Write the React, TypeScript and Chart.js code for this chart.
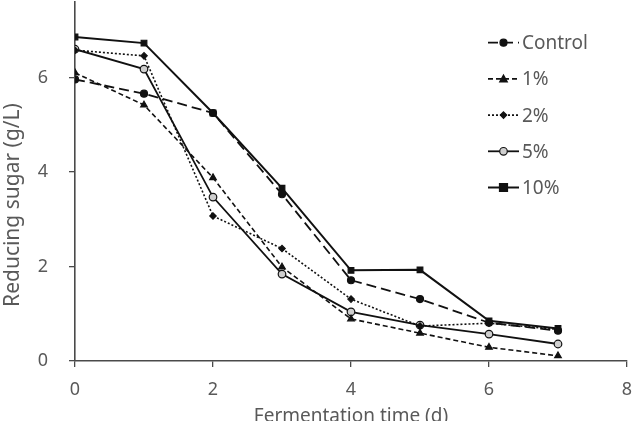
import React, { useEffect, useRef } from "react";
import { Chart, registerables } from "chart.js";

Chart.register(...registerables);

const days = [0, 1, 2, 3, 4, 5, 6, 7];
const seriesLabels = ["Control", "1%", "2%", "5%", "10%"];
const controlValues = [5.96, 5.66, 5.25, 3.53, 1.71, 1.31, 0.81, 0.64];
const pct1Values = [6.1, 5.42, 3.88, 1.99, 0.89, 0.59, 0.29, 0.11];
const pct2Values = [6.58, 6.46, 3.07, 2.38, 1.31, 0.74, 0.8, 0.67];
const pct5Values = [6.6, 6.18, 3.47, 1.84, 1.04, 0.76, 0.57, 0.36];
const pct10Values = [6.86, 6.73, 5.25, 3.66, 1.92, 1.93, 0.85, 0.69];
const xTickValues = [0, 2, 4, 6, 8];
const yTickValues = [0, 2, 4, 6];
const xTitle = "Fermentation time (d)";
const yTitle = "Reducing sugar (g/L)";

const FONT = "'Noto Sans', sans-serif";
const TEXT = "#595959";
const AXIS = "#4a4a4a";

const styles = [
  { dash: [10, 5], width: 1.8, point: "circle", radius: 3.5, fill: "#111" },
  { dash: [5, 3], width: 1.6, point: "triangle", radius: 3.8, fill: "#111" },
  { dash: [2, 2], width: 1.6, point: "rectRot", radius: 3.2, fill: "#111" },
  { dash: [], width: 1.8, point: "circle", radius: 3.8, fill: "#cfcfcf" },
  { dash: [], width: 2.0, point: "rect", radius: 4, fill: "#111" },
];

function drawMarker(ctx: CanvasRenderingContext2D, kind: string, x: number, y: number, r: number, fill: string) {
  ctx.save();
  ctx.setLineDash([]);
  ctx.fillStyle = fill;
  ctx.strokeStyle = "#111";
  ctx.lineWidth = 1.2;
  ctx.beginPath();
  if (kind === "circle") {
    ctx.arc(x, y, r, 0, Math.PI * 2);
  } else if (kind === "triangle") {
    ctx.moveTo(x, y - r);
    ctx.lineTo(x + r, y + r * 0.8);
    ctx.lineTo(x - r, y + r * 0.8);
    ctx.closePath();
  } else if (kind === "rectRot") {
    ctx.moveTo(x, y - r);
    ctx.lineTo(x + r, y);
    ctx.lineTo(x, y + r);
    ctx.lineTo(x - r, y);
    ctx.closePath();
  } else {
    ctx.rect(x - r, y - r, 2 * r, 2 * r);
  }
  ctx.fill();
  ctx.stroke();
  ctx.restore();
}

const legendPlugin = {
  id: "customLegend",
  afterDraw(chart: any) {
    const ctx: CanvasRenderingContext2D = chart.ctx;
    ctx.save();
    // y axis title
    ctx.save();
    ctx.translate(13, 205);
    ctx.rotate(-Math.PI / 2);
    ctx.fillStyle = TEXT;
    ctx.font = `21px ${FONT}`;
    ctx.textAlign = "center";
    ctx.textBaseline = "middle";
    ctx.fillText(yTitle, 0, 0);
    ctx.restore();
    // legend
    seriesLabels.forEach((label, i) => {
      const st = styles[i];
      const y = 42.7 + i * 36.2;
      ctx.strokeStyle = "#111";
      ctx.lineWidth = st.width;
      ctx.setLineDash(st.dash);
      ctx.beginPath();
      ctx.moveTo(488, y);
      ctx.lineTo(519, y);
      ctx.stroke();
      drawMarker(ctx, st.point, 503.5, y, st.radius, st.fill);
      ctx.setLineDash([]);
      ctx.fillStyle = TEXT;
      ctx.font = `19px ${FONT}`;
      ctx.textBaseline = "middle";
      ctx.textAlign = "left";
      ctx.fillText(label, 522, y + 1);
    });
    ctx.restore();
  },
};

export default function App() {
  const canvasRef = useRef<HTMLCanvasElement | null>(null);

  useEffect(() => {
    const canvas = canvasRef.current;
    if (!canvas) return;
    const seriesValues = [controlValues, pct1Values, pct2Values, pct5Values, pct10Values];
    const chart = new Chart(canvas, {
      type: "line",
      data: {
        datasets: seriesValues.map((vals, i) => ({
          label: seriesLabels[i],
          data: days.map((d, j) => ({ x: d, y: vals[j] })),
          borderColor: "#111",
          borderWidth: styles[i].width,
          borderDash: styles[i].dash,
          pointStyle: styles[i].point as any,
          pointRadius: styles[i].radius,
          pointBackgroundColor: styles[i].fill,
          pointBorderColor: "#111",
          pointBorderWidth: 1.2,
          fill: false,
          tension: 0,
        })),
      },
      options: {
        responsive: false,
        animation: false,
        layout: { autoPadding: false, padding: { left: 0, right: 17, top: 2, bottom: 0 } },
        plugins: {
          legend: { display: false },
          tooltip: { enabled: false },
        },
        scales: {
          x: {
            type: "linear",
            min: 0,
            max: 8,
            afterBuildTicks: (scale: any) => {
              scale.ticks = xTickValues.map((v) => ({ value: v }));
            },
            afterFit: (scale: any) => {
              scale.height = 79;
              scale.paddingLeft = 0;
              scale.paddingRight = 0;
            },
            grid: { display: true, drawOnChartArea: false, drawTicks: true, tickLength: 6, color: AXIS, lineWidth: 1.3 },
            border: { display: true, color: AXIS, width: 1.6 },
            ticks: { color: TEXT, font: { family: FONT, size: 18 }, padding: 12, maxRotation: 0 },
            title: {
              display: true,
              text: xTitle,
              color: TEXT,
              font: { family: FONT, size: 19 },
              padding: { top: 0, bottom: 11.6 },
            },
          },
          y: {
            type: "linear",
            min: 0,
            max: 7.6,
            afterBuildTicks: (scale: any) => {
              scale.ticks = yTickValues.map((v) => ({ value: v }));
            },
            afterFit: (scale: any) => {
              scale.width = 75;
              scale.paddingTop = 0;
              scale.paddingBottom = 0;
            },
            grid: { display: true, drawOnChartArea: false, drawTicks: true, tickLength: 6, color: AXIS, lineWidth: 1.3 },
            border: { display: true, color: AXIS, width: 1.6 },
            ticks: { color: TEXT, font: { family: FONT, size: 18 }, padding: 21 },
            title: { display: false },
          },
        },
      },
      plugins: [legendPlugin],
    });
    return () => chart.destroy();
  }, []);

  return (
    <div style={{ position: "absolute", left: 0, top: 0, width: 644, height: 440, background: "#fff" }}>
      <canvas ref={canvasRef} width={644} height={440} style={{ display: "block", width: 644, height: 440 }} />
    </div>
  );
}
